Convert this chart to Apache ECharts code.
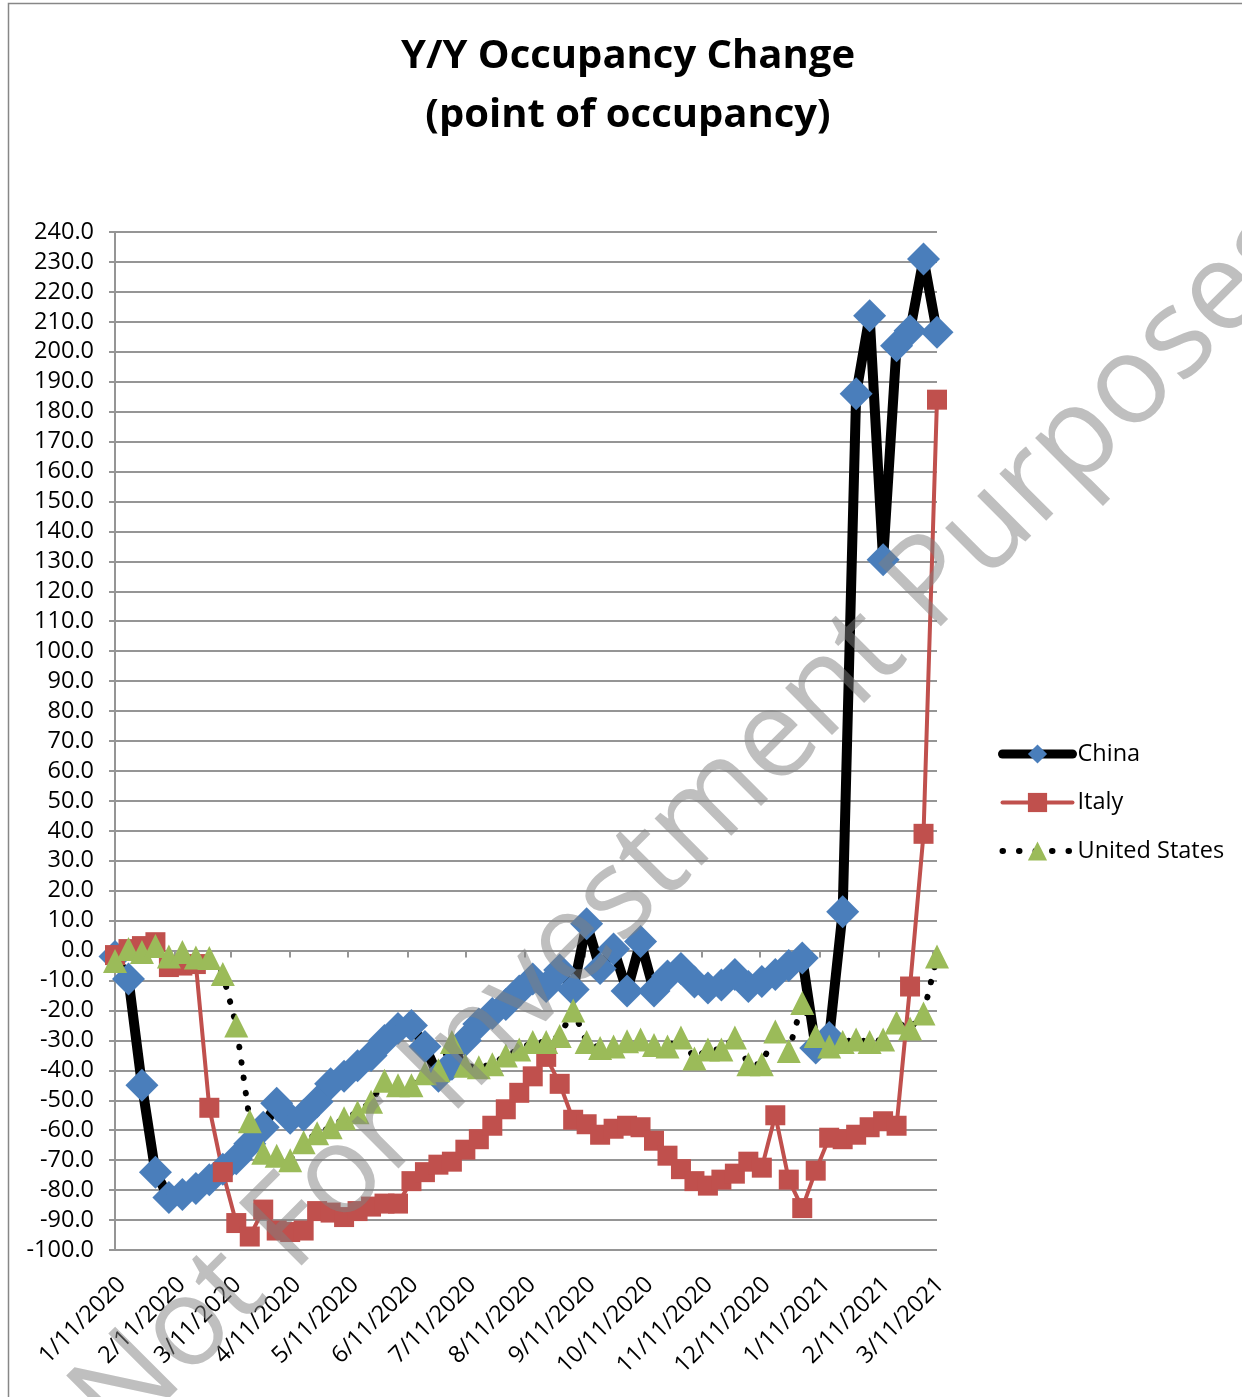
<!DOCTYPE html>
<html><head><meta charset="utf-8">
<script src="https://cdn.jsdelivr.net/npm/echarts@6/dist/echarts.min.js"></script>
<style>html,body{margin:0;padding:0;background:#fff}#c{width:1242px;height:1397px}</style>
</head><body><div id="c"></div>
<script>
const weekDates = [
 '2020-01-11','2020-01-18','2020-01-25','2020-02-01','2020-02-08','2020-02-15','2020-02-22','2020-02-29',
 '2020-03-07','2020-03-14','2020-03-21','2020-03-28','2020-04-04','2020-04-11','2020-04-18','2020-04-25',
 '2020-05-02','2020-05-09','2020-05-16','2020-05-23','2020-05-30','2020-06-06','2020-06-13','2020-06-20',
 '2020-06-27','2020-07-04','2020-07-11','2020-07-18','2020-07-25','2020-08-01','2020-08-08','2020-08-15',
 '2020-08-22','2020-08-29','2020-09-05','2020-09-12','2020-09-19','2020-09-26','2020-10-03','2020-10-10',
 '2020-10-17','2020-10-24','2020-10-31','2020-11-07','2020-11-14','2020-11-21','2020-11-28','2020-12-05',
 '2020-12-12','2020-12-19','2020-12-26','2021-01-02','2021-01-09','2021-01-16','2021-01-23','2021-01-30',
 '2021-02-06','2021-02-13','2021-02-20','2021-02-27','2021-03-06','2021-03-13'
];
const tickDates = ['2020-01-11','2020-02-11','2020-03-11','2020-04-11','2020-05-11','2020-06-11','2020-07-11',
 '2020-08-11','2020-09-11','2020-10-11','2020-11-11','2020-12-11','2021-01-11','2021-02-11','2021-03-11'];
const china = [-2,-9.5,-45,-74,-82.5,-81.5,-79.5,-76.5,-73,-69.5,-64.5,-59,-51,-56,-55,-50.5,
 -44.5,-42,-38.5,-35,-30,-26,-25,-32,-42,-38,-30,-24.5,-21,-18,-13.5,-9.5,
 -12,-6.5,-13,9,-6,0.5,-13.5,3,-13.5,-8.5,-6,-10.5,-12.5,-11.5,-8,-12,
 -10.3,-8,-5,-2.5,-32.5,-29,13,186,212,130.5,202,207,231,206.5];
const italy = [-1.5,0.5,1.5,2.8,-5.5,-5,-4.5,-52.5,-74,-91,-95.5,-86.5,-93.5,-94,-93.5,-87,
 -87.5,-89,-87,-85.5,-84.5,-84.5,-77,-74,-71.5,-70.5,-66.5,-63,-58.5,-53,-47.5,-42,
 -35.5,-44.5,-56.5,-58,-61.5,-59.5,-58.5,-59,-63.5,-68.5,-73,-77,-78.5,-76.5,-74.5,-70.5,
 -72.5,-55,-76.5,-86,-73.5,-62.5,-63,-61.5,-59,-57,-58.5,-12,39,184];
const unitedStates = [-3.5,0.5,-0.5,1.5,-2,-0.5,-2.3,-2.5,-7.8,-25,-57,-67.5,-68.5,-70,-64,-61,
 -59,-56,-54,-50.5,-43.5,-45,-45,-41,-40,-30.5,-38.5,-39,-38,-35,-33,-30.5,
 -30.5,-28.5,-20,-30.5,-32.5,-32,-30.3,-29.7,-31.5,-32,-29,-36,-33,-33,-29,-38,
 -38,-27,-33.5,-17.5,-28.5,-32,-30.5,-29.7,-30.5,-29.7,-24,-26,-21,-2];

function ts(s){const p=s.split('-');return Date.UTC(+p[0],+p[1]-1,+p[2]);}
function pair(vals){return weekDates.map((d,i)=>[ts(d),vals[i]]);}
const tickVals = tickDates.map(ts);
const FONT = '"Open Sans", "Noto Sans", sans-serif';
const gray = '#959595';
const xMin = ts(weekDates[0]), xMax = ts(weekDates[weekDates.length-1]);
function fmt(v){const d=new Date(v);return (d.getUTCMonth()+1)+'/'+d.getUTCDate()+'/'+d.getUTCFullYear();}

const chart = echarts.init(document.getElementById('c'), null, {renderer:'canvas'});
chart.setOption({
  backgroundColor:'#fff',
  animation:false,
  textStyle:{fontFamily:FONT},
  title:{
    text:'Y/Y Occupancy Change\n(point of occupancy)',
    left:623, top:22, textAlign:'center',
    textStyle:{fontFamily:FONT,fontSize:40,fontWeight:'bold',color:'#000',lineHeight:59}
  },
  grid:[
    {left:115,right:305,top:232,bottom:147,containLabel:false},
    {left:122,right:298,top:232,bottom:147,containLabel:false}
  ],
  legend:{
    orient:'vertical', left:993, top:737,
    itemWidth:70, itemHeight:24, itemGap:24.5,
    textStyle:{fontFamily:FONT,fontSize:23.5,color:'#000'},
    data:[
      {name:'China', lineStyle:{width:9,color:'#000',cap:'round'}},
      {name:'Italy', lineStyle:{width:4,color:'#C0504D',cap:'round'}},
      {name:'United States', lineStyle:{width:6,color:'#000',type:[0.5,16],cap:'round'}}
    ]
  },
  xAxis:[{
    type:'value', min:xMin, max:xMax, gridIndex:0,
    axisLine:{show:true,onZero:true,lineStyle:{color:gray,width:2}},
    axisTick:{show:true,length:7,inside:false,customValues:tickVals,lineStyle:{color:gray,width:2}},
    axisLabel:{show:false},
    splitLine:{show:false}
  },{
    type:'value', min:xMin, max:xMax, gridIndex:1, position:'bottom', offset:17,
    axisLine:{show:false,onZero:false},
    axisTick:{show:false},
    axisLabel:{show:true,customValues:tickVals,rotate:45,margin:14,fontSize:23.5,fontFamily:FONT,color:'#000',formatter:fmt,hideOverlap:false},
    splitLine:{show:false}
  }],
  yAxis:[{
    type:'value', min:-100, max:240, interval:10, gridIndex:0,
    axisLine:{show:true,onZero:false,lineStyle:{color:gray,width:2}},
    axisTick:{show:true,length:6,lineStyle:{color:gray,width:2}},
    axisLabel:{fontSize:23.5,fontFamily:FONT,color:'#000',margin:21,formatter:v=>v.toFixed(1)},
    splitLine:{show:true,lineStyle:{color:gray,width:2}}
  },{
    type:'value', min:-100, max:240, gridIndex:1, show:false
  }],
  series:[{
    name:'China', type:'line', xAxisIndex:0, yAxisIndex:0, data:pair(china),
    symbol:'diamond', symbolSize:33,
    lineStyle:{color:'#000',width:10,cap:'round',join:'round'},
    itemStyle:{color:'#4A7EBB'}
  },{
    name:'Italy', type:'line', xAxisIndex:0, yAxisIndex:0, data:pair(italy),
    symbol:'rect', symbolSize:20,
    lineStyle:{color:'#C0504D',width:4,join:'round'},
    itemStyle:{color:'#C0504D'}
  },{
    name:'United States', type:'line', xAxisIndex:0, yAxisIndex:0, data:pair(unitedStates),
    symbol:'triangle', symbolSize:24,
    lineStyle:{color:'#000',width:6,type:[0.5,15],cap:'round'},
    itemStyle:{color:'#9BBB59'}
  }],
  graphic:[{
    type:'rect', silent:true, z:-10,
    shape:{x:8.5,y:3.5,width:1300,height:1500},
    style:{fill:'none',stroke:'#878787',lineWidth:1.5}
  },{
    type:'text', silent:true, z:200,
    x:692, y:825, rotation:Math.PI/4,
    style:{text:'Not For Investment Purposes', font:'124px "Open Sans"', fill:'rgba(128,128,128,0.5)', align:'center', verticalAlign:'middle'}
  }]
});
</script></body></html>
